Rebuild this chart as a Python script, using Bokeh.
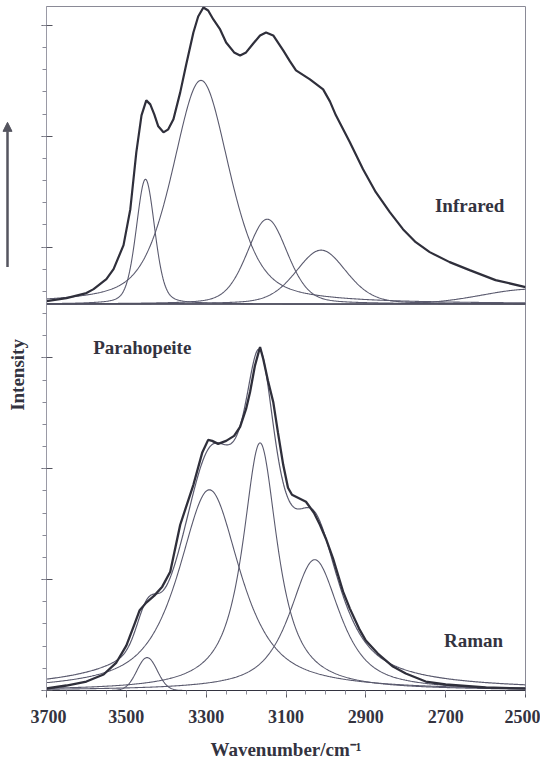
import numpy as np
from bokeh.plotting import figure
from bokeh.layouts import row
from bokeh.models import Range1d, FixedTicker, Label, Arrow, NormalHead, Span
from bokeh.embed import file_html
from bokeh.resources import INLINE

# ---------------- data ----------------
# Infrared observed spectrum (wavenumber / cm-1, intensity a.u.)
ir_wn = [3700, 3650, 3600, 3582, 3550, 3532, 3507, 3490, 3475, 3462, 3450, 3440,
         3430, 3420, 3407, 3395, 3382, 3365, 3350, 3332, 3320, 3307, 3295, 3282,
         3265, 3250, 3230, 3215, 3200, 3182, 3165, 3150, 3132, 3107, 3090, 3075,
         3040, 3007, 2990, 2975, 2940, 2907, 2875, 2840, 2807, 2775, 2740, 2690,
         2640, 2575, 2500]
ir_int = [3, 6, 11, 15, 25, 35, 59, 95, 152, 189, 204, 200,
          190, 178, 172, 175, 185, 212, 240, 272, 288, 297, 294, 285,
          275, 262, 252, 249, 252, 261, 269, 272, 269, 254, 243, 234,
          225, 215, 203, 189, 162, 135, 112, 92, 75, 62, 52, 42,
          34, 24, 17]
ir_offset = 387  # vertical offset of the infrared trace

# Infrared fitted bands: centre, height, FWHM, Lorentzian fraction
ir_centers = [3452, 3313, 3147, 3012, 2480]
ir_heights = [125, 224, 85, 54, 15]
ir_fwhm = [55, 170, 120, 150, 300]
ir_lorentz = [0.3, 0.5, 0.3, 0.3, 0.0]

# Raman observed spectrum
raman_wn = [3700, 3650, 3600, 3557, 3525, 3500, 3480, 3467, 3450, 3430, 3410, 3390,
            3365, 3332, 3310, 3295, 3285, 3270, 3250, 3230, 3215, 3200, 3190, 3178,
            3165, 3157, 3145, 3132, 3120, 3107, 3095, 3085, 3070, 3050, 3030, 3015,
            3000, 2982, 2957, 2940, 2917, 2900, 2870, 2832, 2800, 2750, 2700, 2600,
            2500]
raman_int = [2, 5, 9, 16, 28, 45, 66, 80, 88, 95, 104, 119,
             166, 206, 238, 251, 250, 247, 250, 255, 264, 282, 299, 325,
             344, 332, 310, 289, 258, 226, 203, 196, 193, 189, 178, 166,
             152, 132, 99, 82, 62, 50, 37, 24, 17, 9, 6, 3,
             2]

# Raman fitted bands
raman_centers = [3448, 3292, 3165, 3028]
raman_heights = [33, 201, 248, 131]
raman_fwhm = [60, 185, 105, 150]
raman_lorentz = [0.0, 0.8, 0.95, 0.8]

x_ticks = [3700, 3500, 3300, 3100, 2900, 2700, 2500]

# ---------------- helpers ----------------
grid = np.arange(3700, 2499, -2.0)


def band(x, c, h, w, eta):
    d = (x - c) / w
    return h * (eta / (1 + 4 * d * d) + (1 - eta) * np.exp(-4 * np.log(2) * d * d))


FONT = "Liberation Serif"
DARK = "#2f2f3b"
COMP = "#5a5a6e"
TXT = "#333340"

yr = Range1d(0, 685)

p = figure(width=510, height=762, output_backend="svg", toolbar_location=None,
           x_range=Range1d(3700, 2500), y_range=yr,
           min_border_left=16, min_border_right=15, min_border_top=6,
           min_border_bottom=71, background_fill_color="white",
           border_fill_color="white")
p.grid.visible = False
p.outline_line_color = "#8a8a96"
p.outline_line_width = 1

# separator / IR baseline
p.add_layout(Span(location=ir_offset, dimension="width", line_color="#4a4a58",
                  line_width=1.3))

# Infrared components and spectrum
for c, h, w, e in zip(ir_centers, ir_heights, ir_fwhm, ir_lorentz):
    p.line(grid, ir_offset + band(grid, c, h, w, e), line_color=COMP, line_width=1.1)
p.line(ir_wn, [ir_offset + v for v in ir_int], line_color=DARK, line_width=2.2)

# Raman components, fit and observed spectrum
total = np.zeros_like(grid)
for c, h, w, e in zip(raman_centers, raman_heights, raman_fwhm, raman_lorentz):
    prof = band(grid, c, h, w, e)
    total += prof
    p.line(grid, prof, line_color=COMP, line_width=1.1)
p.line(grid, total, line_color=COMP, line_width=1.2)
p.line(raman_wn, raman_int, line_color=DARK, line_width=2.3)

# axes
xa = p.xaxis[0]
xa.ticker = FixedTicker(ticks=x_ticks, minor_ticks=list(range(3700, 2499, -50)))
xa.major_label_text_font = FONT
xa.major_label_text_font_style = "bold"
xa.major_label_text_font_size = "18px"
xa.major_label_text_color = TXT
xa.major_label_standoff = 12
xa.major_tick_out = 7
xa.major_tick_in = 0
xa.minor_tick_out = 4
xa.minor_tick_in = 0
xa.axis_line_color = "#333340"
xa.major_tick_line_color = "#55555f"
xa.minor_tick_line_color = "#8a8a96"
xa.axis_label = "Wavenumber/cm\u207b\u00b9"
xa.axis_label_text_font = FONT
xa.axis_label_text_font_style = "bold"
xa.axis_label_text_font_size = "19px"
xa.axis_label_text_color = TXT
xa.axis_label_standoff = 13

y_major = [0, 111, 222, 333, 444, 555, 666]
ya = p.yaxis[0]
ya.ticker = FixedTicker(ticks=y_major,
                        minor_ticks=[round(22.2 * k, 1) for k in range(31)])
ya.major_label_overrides = {t: "" for t in y_major}
ya.major_label_standoff = 0
ya.major_tick_out = 5
ya.major_tick_in = 6
ya.minor_tick_out = 4
ya.minor_tick_in = 0
ya.axis_line_color = "#9a9aa6"
ya.major_tick_line_color = "#55555f"
ya.minor_tick_line_color = "#8a8a96"


def lab(fig, x, y, t, size="19px", align="center", angle=0.0):
    fig.add_layout(Label(x=x, y=y, text=t, text_font=FONT, text_font_style="bold",
                         text_font_size=size, text_color=TXT, text_align=align,
                         text_baseline="middle", angle=angle))


lab(p, 2640, 486, "Infrared")
lab(p, 3460, 344, "Parahopeite")
lab(p, 2630, 50, "Raman")

# left strip with the intensity arrow and axis title
q = figure(width=30, height=762, output_backend="svg", toolbar_location=None,
           x_range=Range1d(8, 38), y_range=yr, x_axis_location=None,
           y_axis_location=None, min_border_left=0, min_border_right=0,
           min_border_top=6, min_border_bottom=71, outline_line_color=None,
           background_fill_color="white", border_fill_color="white")
q.grid.visible = False
lab(q, 25, 316, "Intensity", angle=np.pi / 2)
q.add_layout(Arrow(end=NormalHead(size=9, fill_color="#55555f", line_color="#55555f"),
                   x_start=15, y_start=424, x_end=15, y_end=569,
                   line_color="#55555f", line_width=2.5))

open("out.html", "w").write(file_html(row(q, p), INLINE))
